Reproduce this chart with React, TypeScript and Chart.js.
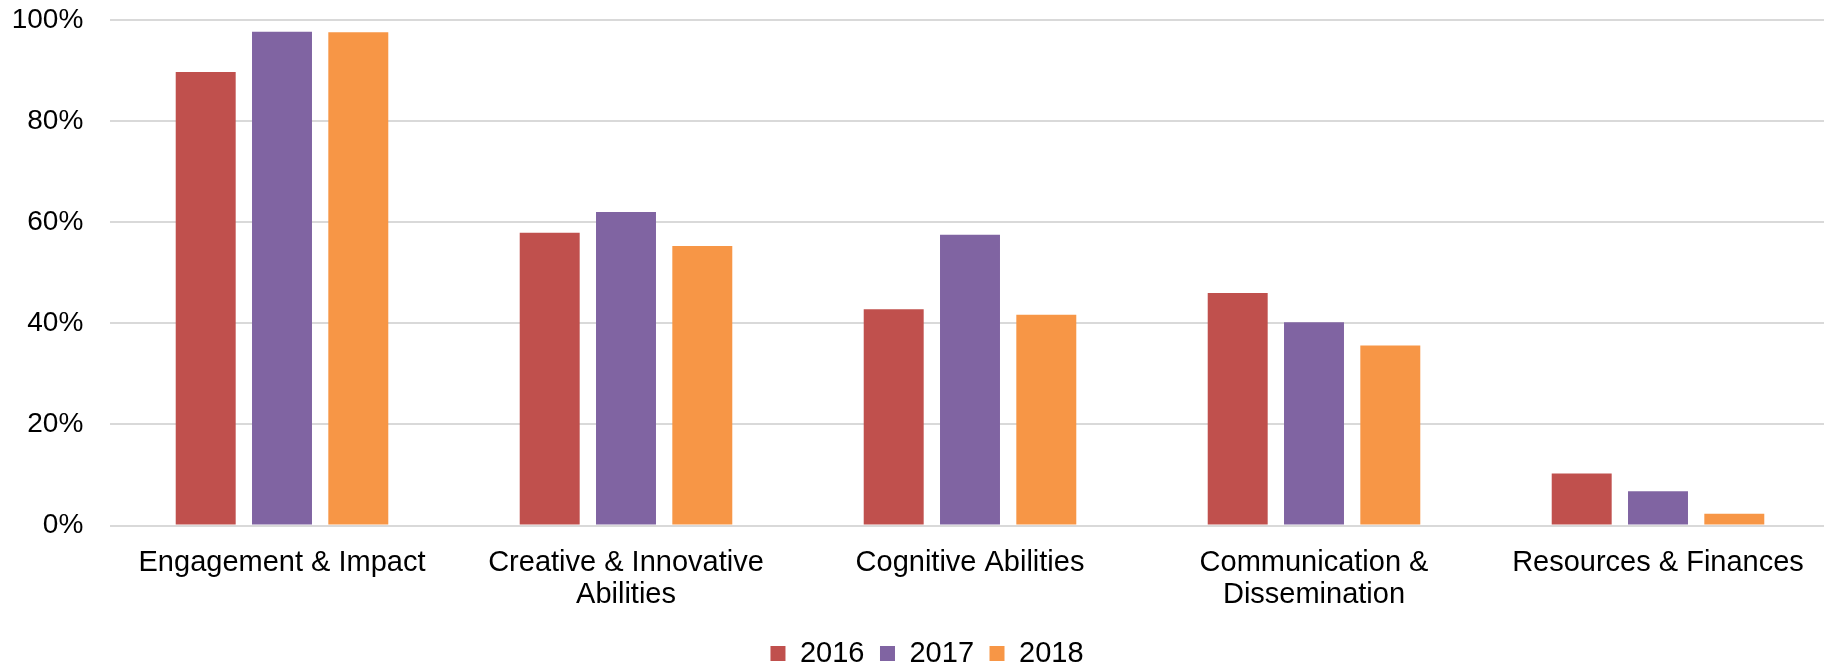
import React, { useEffect, useRef } from "react";
import { Chart, registerables } from "chart.js";

Chart.register(...registerables);

const categories: (string | string[])[] = [
  "Engagement & Impact",
  ["Creative & Innovative", "Abilities"],
  "Cognitive Abilities",
  ["Communication &", "Dissemination"],
  "Resources & Finances",
];

const seriesNames = ["2016", "2017", "2018"];
const values2016 = [89.7, 57.9, 42.8, 46.0, 10.3];
const values2017 = [97.7, 62.0, 57.5, 40.2, 6.8];
const values2018 = [97.6, 55.3, 41.7, 35.6, 2.3];
const seriesColors = ["#C0504D", "#8064A2", "#F79646"];

const yTicks = [0, 20, 40, 60, 80, 100];

const FONT = "'Liberation Sans', Arial, sans-serif";

// shifts the legend box so it is centred like the reference's legend
const legendShift = {
  id: "legendShift",
  afterLayout(chart: any) {
    if (chart.legend) chart.legend.left = 24;
  },
};

export default function App() {
  const ref = useRef<HTMLCanvasElement | null>(null);

  useEffect(() => {
    if (!ref.current) return;
    const series = [values2016, values2017, values2018];
    const chart = new Chart(ref.current, {
      type: "bar",
      data: {
        labels: categories,
        datasets: seriesNames.map((name, i) => ({
          label: name,
          data: series[i],
          backgroundColor: seriesColors[i],
          borderWidth: 0,
          categoryPercentage: 0.6654,
          barPercentage: 0.786,
        })),
      },
      options: {
        responsive: false,
        animation: false,
        devicePixelRatio: 1,
        layout: { padding: { left: 0, top: 20, right: 0, bottom: 0 } },
        plugins: {
          tooltip: { enabled: false },
          legend: {
            position: "bottom",
            labels: {
              font: { family: FONT, size: 29 },
              color: "#000",
              boxWidth: 15,
              boxHeight: 15,
              padding: 15.5,
            },
          },
        },
        scales: {
          x: {
            grid: { display: false },
            border: { display: false },
            ticks: {
              font: { family: FONT, size: 29, lineHeight: 1.1 },
              color: "#000",
              padding: 14,
              maxRotation: 0,
              autoSkip: false,
            },
            afterFit: (s: any) => {
              s.height = 98;
            },
          },
          y: {
            min: yTicks[0],
            max: yTicks[yTicks.length - 1],
            border: { display: false },
            grid: { color: "#D9D9D9", lineWidth: 2, drawTicks: false },
            ticks: {
              stepSize: yTicks[1] - yTicks[0],
              font: { family: FONT, size: 28 },
              color: "#000",
              padding: 26.7,
              callback: (v: any) => v + "%",
            },
            afterFit: (s: any) => {
              s.width = 110;
              s.paddingTop = 0;
              s.paddingBottom = 0;
            },
          },
        },
      },
      plugins: [legendShift],
    });
    return () => chart.destroy();
  }, []);

  return (
    <div
      style={{
        position: "fixed",
        left: 0,
        top: 0,
        width: 1824,
        height: 664,
        overflow: "hidden",
        background: "#fff",
      }}
    >
      <canvas
        ref={ref}
        width={1830}
        height={678}
        style={{ width: 1830, height: 678, display: "block" }}
      />
    </div>
  );
}
